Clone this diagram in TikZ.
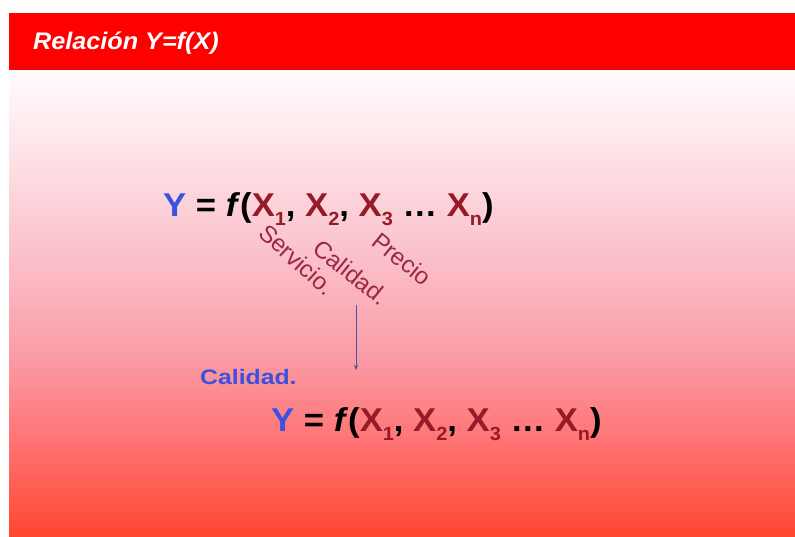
\documentclass[tikz,border=0pt]{standalone}
\usepackage{fontspec}
\setmainfont{Liberation Sans}
\usetikzlibrary{arrows.meta}
\definecolor{yblue}{HTML}{3A52E0}
\definecolor{xred}{HTML}{961A28}
\definecolor{lblred}{HTML}{9A2845}
\definecolor{cblue}{HTML}{3C50E0}
\definecolor{arrowc}{HTML}{5050A0}
\definecolor{hdr}{HTML}{FF0000}
\definecolor{ca}{HTML}{FF4630}
\definecolor{cb}{HTML}{FF7474}
\definecolor{cc}{HTML}{FA9EA8}
\definecolor{cd}{HTML}{FBC2CC}
\definecolor{ce}{HTML}{FDE4E8}
\definecolor{cf}{HTML}{FFFCFC}
\pgfdeclareverticalshading{slidebg}{100bp}{color(0bp)=(ca); color(25bp)=(ca); color(35.4bp)=(cb); color(45bp)=(cc); color(55.7bp)=(cd); color(66.4bp)=(ce); color(75bp)=(cf); color(100bp)=(cf)}
\newcommand\xsub[1]{\textcolor{xred}{X\raisebox{-0.26em}{\fontsize{19}{19}\selectfont #1}}}
\newcommand\eqtext{\textcolor{yblue}{Y} = \textit{f}(\xsub{1}, \xsub{2}, \xsub{3} … \xsub{n})}
\tikzset{
  eqn/.style={inner sep=0pt, anchor=base west, font=\fontsize{33}{33}\selectfont\bfseries, xscale=1.05},
  lbl/.style={inner sep=0pt, anchor=base west, text=lblred, font=\fontsize{24}{24}\selectfont},
  ttl/.style={inner sep=0pt, anchor=base west, text=white, font=\fontsize{24}{24}\selectfont\bfseries\itshape, xscale=1.05},
  cal/.style={inner sep=0pt, anchor=base west, text=cblue, font=\fontsize{21}{21}\selectfont\bfseries, xscale=1.18},
  arr/.style={draw=arrowc, line width=0.9pt, -{Stealth[length=5pt,width=4pt]}}
}
\begin{document}
\begin{tikzpicture}[x=1pt,y=1pt]
\useasboundingbox (0,0) rectangle (795,537);
\fill[white] (0,0) rectangle (795,537);
\shade[shading=slidebg] (9,0) rectangle (795,467);
\fill[hdr] (9,467) rectangle (795,524);
\node[ttl] (title) at (33,487) {Relación Y=f(X)};
\node[eqn] (eq1) at (163,320) {\eqtext};
\node[lbl, rotate=-42] (serv) at (257,302) {Servicio.};
\node[lbl, rotate=-39] (cali) at (311,286) {Calidad.};
\node[lbl, rotate=-39] (prec) at (370,293) {Precio};
\coordinate (a1) at (356,232);
\coordinate (a2) at (356,167);
\draw[arr] (a1) -- (a2);
\node[cal] (calb) at (200,152) {Calidad.};
\node[eqn] (eq2) at (271,105) {\eqtext};
\end{tikzpicture}
\end{document}
